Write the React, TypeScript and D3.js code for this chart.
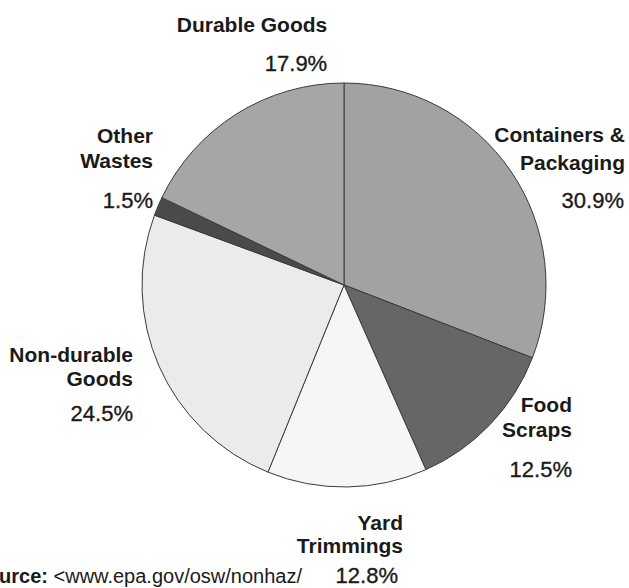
import React from "react";
import * as d3 from "d3";

const categories = ["Containers & Packaging", "Food Scraps", "Yard Trimmings", "Non-durable Goods", "Other Wastes", "Durable Goods"];
const values = [30.9, 12.5, 12.8, 24.5, 1.5, 17.9];
const percentLabels = ["30.9%", "12.5%", "12.8%", "24.5%", "1.5%", "17.9%"];
const labelLines = [["Containers &", "Packaging"], ["Food", "Scraps"], ["Yard", "Trimmings"], ["Non-durable", "Goods"], ["Other", "Wastes"], ["Durable Goods"]];
const colors = ["#a2a2a2", "#666666", "#f6f6f6", "#ebebeb", "#4a4a4a", "#a6a6a6"];

// label layout: [anchorX, first line baseline, line gap, anchor, percent x, percent baseline, percent anchor]
const labelLayout: [number, number, number, string, number, number, string][] = [
  [625, 142, 28, "end", 624, 208, "end"],
  [572, 412, 25, "end", 572, 477, "end"],
  [403, 530, 23, "end", 398, 583, "end"],
  [133, 362, 24, "end", 133, 421, "end"],
  [153, 143, 25, "end", 153, 208, "end"],
  [252, 32, 0, "middle", 296, 71, "middle"],
];

export default function App() {
  const W = 629, H = 588;
  const cx = 344, cy = 285, r = 202;
  const pie = d3.pie<number>().sort(null).value((d) => d);
  const arcs = pie(values);
  const arcGen = d3.arc<d3.PieArcDatum<number>>().innerRadius(0).outerRadius(r);
  const font = "'Liberation Sans', Arial, sans-serif";
  return (
    <svg width={W} height={H} style={{ position: "absolute", left: 0, top: 0, background: "#fff" }}>
      <g transform={`translate(${cx},${cy})`}>
        {arcs.map((a, i) => (
          <path key={categories[i]} d={arcGen(a) || ""} fill={colors[i]} stroke="#3a3a3a" strokeWidth={1} strokeLinejoin="round" />
        ))}
      </g>
      {labelLayout.map((l, i) => (
        <g key={categories[i]} fontFamily={font} fill="#1a1a1a">
          <text x={l[0]} y={l[1]} textAnchor={l[3]} fontSize={21} fontWeight="bold">
            {labelLines[i].map((t, j) => (
              <tspan key={j} x={l[0]} dy={j === 0 ? 0 : l[2]}>{t}</tspan>
            ))}
          </text>
          <text x={l[4]} y={l[5]} textAnchor={l[6]} fontSize={22} stroke="#1a1a1a" strokeWidth={0.35}>{percentLabels[i]}</text>
        </g>
      ))}
      <text x={302} y={583} textAnchor="end" fontFamily={font} fontSize={20} fill="#1a1a1a">
        <tspan fontWeight="bold">Source:</tspan>
        <tspan> &lt;www.epa.gov/osw/nonhaz/</tspan>
      </text>
    </svg>
  );
}
